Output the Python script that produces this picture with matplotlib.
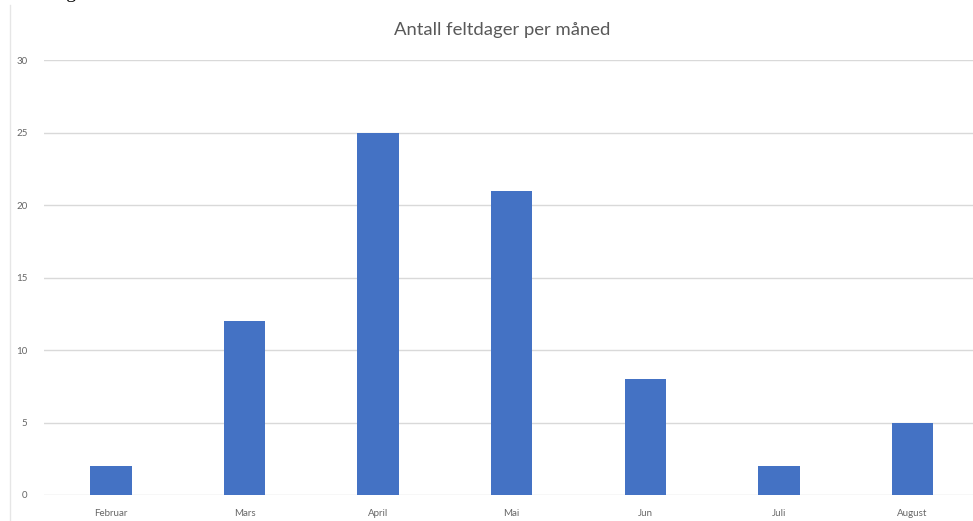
import matplotlib
matplotlib.use("Agg")
import matplotlib.pyplot as plt
from matplotlib.lines import Line2D

months = ["Februar", "Mars", "April", "Mai", "Jun", "Juli", "August"]
days = [2, 12, 25, 21, 8, 2, 5]
yticks = [0, 5, 10, 15, 20, 25, 30]
title = "Antall feltdager per måned"

plt.rcParams['font.family'] = ['Lato', 'DejaVu Sans']

fig = plt.figure(figsize=(9.73, 5.21), dpi=100)
ax = fig.add_axes([44.2/973, 26/521, 935/973, 435/521])

x = range(len(months))
ax.bar(x, days, width=0.31, color="#4472C4", zorder=3)
ax.set_xlim(-0.5, len(months) - 0.5)
ax.set_ylim(0, 30)
ax.set_yticks(yticks)
ax.set_xticks(list(x))
ax.set_xticklabels(months)
ax.grid(axis="y", color="#d9d9d9", linewidth=1.0, zorder=0)
for s in ax.spines.values():
    s.set_visible(False)
ax.tick_params(axis="both", length=0, labelsize=7, labelcolor="#666666")
ax.tick_params(axis="y", pad=12)
ax.tick_params(axis="x", pad=10)

fig.text(502/973, 1 - 30/521, title, ha="center", va="center",
         fontsize=13.3, color="#595959")

# chart area border on the left
fig.add_artist(Line2D([10/973, 10/973], [0, 1 - 5/521], color="#e6e6e6", linewidth=1))

# cut-off caption above the chart
fig.text(50/973, 1 + 2/521, "Figur", fontsize=14, family="Liberation Serif",
         color="black", ha="left", va="baseline")

fig.savefig("out.png", dpi=100)
